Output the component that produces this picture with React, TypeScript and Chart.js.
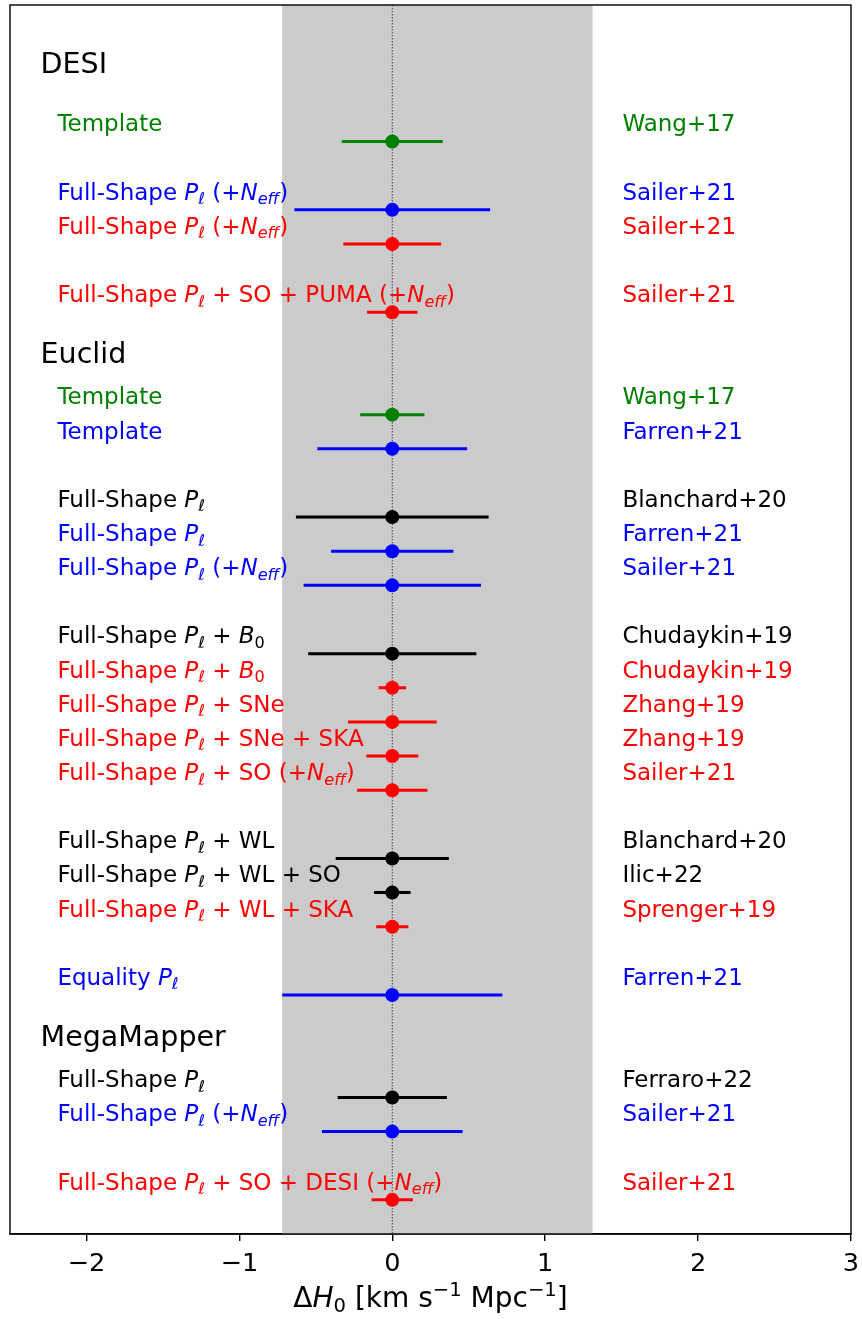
import { useEffect, useRef } from "react";
import Chart from "chart.js/auto";

// ---------- data ----------
const rowY = [4, 6, 7, 9, 12, 13, 15, 16, 17, 19, 20, 21, 22, 23, 25, 26, 27, 29, 32, 33, 35];
const rowValue = [0, 0, 0, 0, 0, 0, 0, 0, 0, 0, 0, 0, 0, 0, 0, 0, 0, 0, 0, 0, 0];
const rowError = [0.33, 0.64, 0.32, 0.165, 0.21, 0.49, 0.63, 0.4, 0.58, 0.55, 0.09, 0.29, 0.17, 0.23, 0.37, 0.12, 0.105, 0.72, 0.357, 0.46, 0.135];
const rowColor = [
  "#008000", "#0000ff", "#ff0000", "#ff0000",
  "#008000", "#0000ff", "#000000", "#0000ff", "#0000ff",
  "#000000", "#ff0000", "#ff0000", "#ff0000", "#ff0000",
  "#000000", "#000000", "#ff0000", "#0000ff",
  "#000000", "#0000ff", "#ff0000",
];
const rowLabel = [
  "Template",
  "Full-Shape $P_\\ell$ (+$N_{eff}$)",
  "Full-Shape $P_\\ell$ (+$N_{eff}$)",
  "Full-Shape $P_\\ell$ + SO + PUMA (+$N_{eff}$)",
  "Template",
  "Template",
  "Full-Shape $P_\\ell$",
  "Full-Shape $P_\\ell$",
  "Full-Shape $P_\\ell$ (+$N_{eff}$)",
  "Full-Shape $P_\\ell$ + $B_0$",
  "Full-Shape $P_\\ell$ + $B_0$",
  "Full-Shape $P_\\ell$ + SNe",
  "Full-Shape $P_\\ell$ + SNe + SKA",
  "Full-Shape $P_\\ell$ + SO (+$N_{eff}$)",
  "Full-Shape $P_\\ell$ + WL",
  "Full-Shape $P_\\ell$ + WL + SO",
  "Full-Shape $P_\\ell$ + WL + SKA",
  "Equality $P_\\ell$",
  "Full-Shape $P_\\ell$",
  "Full-Shape $P_\\ell$ (+$N_{eff}$)",
  "Full-Shape $P_\\ell$ + SO + DESI (+$N_{eff}$)",
];
const rowRef = [
  "Wang+17", "Sailer+21", "Sailer+21", "Sailer+21",
  "Wang+17", "Farren+21", "Blanchard+20", "Farren+21", "Sailer+21",
  "Chudaykin+19", "Chudaykin+19", "Zhang+19", "Zhang+19", "Sailer+21",
  "Blanchard+20", "Ilic+22", "Sprenger+19", "Farren+21",
  "Ferraro+22", "Sailer+21", "Sailer+21",
];
const surveyNames = ["DESI", "Euclid", "MegaMapper"];
const surveyY = [2, 10.5, 30.5];
const bandRange = [-0.72, 1.31];
const xTicks = [-2, -1, 0, 1, 2, 3];
const xRange = [-2.5, 3];
const yRange = [0, 36];
const labelX = -2.19;
const refX = 1.505;
const surveyX = -2.3;
const labelOffset = 0.3;
const axisTitle = "$\\Delta H_0$ [km s$^{-1}$ Mpc$^{-1}$]";

// ---------- rich text ----------
type Seg = { t: string; it: boolean; sc: number; dy: number };
const FONT = '"DejaVu Sans"';

function mathChars(body: string): { ch: string; it: boolean }[] {
  const out: { ch: string; it: boolean }[] = [];
  let i = 0;
  while (i < body.length) {
    const c = body[i];
    if (c === "\\") {
      let j = i + 1;
      while (j < body.length && /[A-Za-z]/.test(body[j])) j++;
      const cmd = body.slice(i + 1, j);
      if (cmd === "ell") out.push({ ch: "\u2113", it: true });
      else if (cmd === "Delta") out.push({ ch: "\u0394", it: false });
      else out.push({ ch: cmd, it: false });
      i = j;
      continue;
    }
    if (c === " ") { i++; continue; }
    if (c === "-") out.push({ ch: "\u2212", it: false });
    else out.push({ ch: c, it: /[A-Za-z]/.test(c) });
    i++;
  }
  return out;
}

function parse(s: string): Seg[] {
  const segs: Seg[] = [];
  const push = (t: string, it: boolean, sc: number, dy: number) => {
    const last = segs[segs.length - 1];
    if (last && last.it === it && last.sc === sc && last.dy === dy) last.t += t;
    else segs.push({ t, it, sc, dy });
  };
  let math = false;
  let i = 0;
  while (i < s.length) {
    const c = s[i];
    if (c === "$") { math = !math; i++; continue; }
    if (!math) { push(c, false, 1, 0); i++; continue; }
    if (c === "_" || c === "^") {
      i++;
      let body = "";
      if (s[i] === "{") {
        const j = s.indexOf("}", i);
        body = s.slice(i + 1, j);
        i = j + 1;
      } else if (s[i] === "\\") {
        let j = i + 1;
        while (j < s.length && /[A-Za-z]/.test(s[j])) j++;
        body = s.slice(i, j);
        i = j;
      } else {
        body = s[i];
        i++;
      }
      const dy = c === "_" ? 0.2 : -0.36;
      for (const m of mathChars(body)) push(m.ch, m.it, 0.7, dy);
      continue;
    }
    if (c === "\\") {
      let j = i + 1;
      while (j < s.length && /[A-Za-z]/.test(s[j])) j++;
      for (const m of mathChars(s.slice(i, j))) push(m.ch, m.it, 1, 0);
      i = j;
      continue;
    }
    for (const m of mathChars(c)) push(m.ch, m.it, 1, 0);
    i++;
  }
  return segs;
}

function fontFor(seg: Seg, size: number) {
  return `${seg.it ? "italic " : ""}${size * seg.sc}px ${FONT}`;
}

function textWidth(ctx: CanvasRenderingContext2D, segs: Seg[], size: number) {
  let w = 0;
  for (const s of segs) {
    ctx.font = fontFor(s, size);
    w += ctx.measureText(s.t).width;
  }
  return w;
}

function drawRich(
  ctx: CanvasRenderingContext2D,
  str: string,
  x: number,
  baseline: number,
  size: number,
  color: string,
  align: "left" | "center" = "left"
) {
  const segs = parse(str);
  let cx = x;
  if (align === "center") cx = x - textWidth(ctx, segs, size) / 2;
  ctx.save();
  ctx.fillStyle = color;
  ctx.textAlign = "left";
  ctx.textBaseline = "alphabetic";
  for (const s of segs) {
    ctx.font = fontFor(s, size);
    ctx.fillText(s.t, cx, baseline + s.dy * size);
    cx += ctx.measureText(s.t).width;
  }
  ctx.restore();
}

// ---------- plugin ----------
const decorPlugin = {
  id: "decor",
  beforeDatasetsDraw(chart: any) {
    const { ctx, chartArea, scales } = chart;
    const x = scales.x;
    ctx.save();
    ctx.fillStyle = "#cbcbcb";
    const x0 = x.getPixelForValue(bandRange[0]);
    const x1 = x.getPixelForValue(bandRange[1]);
    ctx.fillRect(x0, chartArea.top, x1 - x0, chartArea.bottom - chartArea.top);
    ctx.strokeStyle = "#444444";
    ctx.lineWidth = 1;
    ctx.setLineDash([1.5, 1.5]);
    const xz = x.getPixelForValue(0);
    ctx.beginPath();
    ctx.moveTo(xz, chartArea.top);
    ctx.lineTo(xz, chartArea.bottom);
    ctx.stroke();
    ctx.restore();
  },
  afterDatasetsDraw(chart: any) {
    const { ctx, scales } = chart;
    const x = scales.x;
    const y = scales.y;
    rowY.forEach((ry, i) => {
      const by = y.getPixelForValue(ry - labelOffset);
      drawRich(ctx, rowLabel[i], x.getPixelForValue(labelX), by, 23, rowColor[i]);
      drawRich(ctx, rowRef[i], x.getPixelForValue(refX), by, 23, rowColor[i]);
    });
    surveyNames.forEach((n, i) => {
      drawRich(ctx, n, x.getPixelForValue(surveyX), y.getPixelForValue(surveyY[i]), 28.5, "#000000");
    });
  },
  afterDraw(chart: any) {
    const { ctx, chartArea } = chart;
    ctx.save();
    ctx.strokeStyle = "#000000";
    ctx.lineWidth = 1.4;
    ctx.strokeRect(chartArea.left, chartArea.top, chartArea.right - chartArea.left, chartArea.bottom - chartArea.top);
    ctx.restore();
    drawRich(ctx, axisTitle, (chartArea.left + chartArea.right) / 2, 1306.5, 28, "#000000", "center");
  },
};

export default function App() {
  const ref = useRef<HTMLCanvasElement | null>(null);
  useEffect(() => {
    if (!ref.current) return;
    const datasets: any[] = rowY.map((ry, i) => ({
      type: "scatter",
      data: [
        { x: rowValue[i] - rowError[i], y: ry },
        { x: rowValue[i] + rowError[i], y: ry },
      ],
      showLine: true,
      borderColor: rowColor[i],
      borderWidth: 3,
      pointRadius: 0,
      order: 1,
    }));
    datasets.push({
      type: "scatter",
      data: rowY.map((ry, i) => ({ x: rowValue[i], y: ry })),
      pointBackgroundColor: rowColor,
      pointBorderWidth: 0,
      pointRadius: 7,
      showLine: false,
      order: 0,
    });
    const chart = new Chart(ref.current, {
      type: "scatter",
      data: { datasets },
      options: {
        responsive: false,
        animation: false,
        devicePixelRatio: 1,
        layout: { autoPadding: false, padding: { left: 10, right: 11, top: 5, bottom: 0 } },
        plugins: { legend: { display: false }, tooltip: { enabled: false } },
        scales: {
          x: {
            type: "linear",
            min: xRange[0],
            max: xRange[1],
            afterBuildTicks: (scale: any) => {
              scale.ticks = xTicks.map((v) => ({ value: v }));
            },
            afterFit: (scale: any) => {
              scale.height = 85;
              scale.paddingLeft = 0;
              scale.paddingRight = 0;
              scale.paddingTop = 0;
              scale.paddingBottom = 0;
            },
            ticks: {
              color: "#000000",
              font: { family: "DejaVu Sans", size: 25.6 },
              padding: 8,
              maxRotation: 0,
              autoSkip: false,
              callback: (v: any) => (Number(v) < 0 ? "\u2212" + Math.abs(Number(v)) : String(v)),
            },
            grid: {
              drawOnChartArea: false,
              drawTicks: true,
              tickLength: 7,
              color: "#000000",
              lineWidth: 1.4,
            },
            border: { display: true, color: "#000000", width: 1.4 },
          },
          y: {
            type: "linear",
            min: yRange[0],
            max: yRange[1],
            reverse: true,
            display: false,
          },
        },
      },
      plugins: [decorPlugin],
    } as any);
    return () => chart.destroy();
  }, []);
  return (
    <div style={{ position: "absolute", left: 0, top: 0, width: 862, height: 1319 }}>
      <canvas ref={ref} width={862} height={1319} style={{ width: 862, height: 1319 }} />
    </div>
  );
}
